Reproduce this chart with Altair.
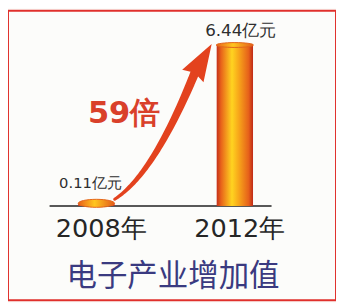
import altair as alt
import pandas as pd

# ---- data ----
years = ["2008年", "2012年"]
values = [0.11, 6.44]
value_labels = ["0.11亿元", "6.44亿元"]
multiple_label = ["59倍"]
title_text = ["电子产业增加值"]
positions = [0, 1]

df = pd.DataFrame({"i": positions, "year": years, "v": values,
                   "lab": value_labels, "z": [0, 0]})

X = alt.Scale(domain=[0, 1], range=[85, 236])
Y = alt.Scale(domain=[0, 6.44], range=[199, 35])

def xe(f="i"):
    return alt.X(f"{f}:Q", scale=X, axis=None)

def ye(f="v"):
    return alt.Y(f"{f}:Q", scale=Y, axis=None)

bar_grad = alt.Gradient(
    gradient="linear", x1=0, x2=1, y1=0, y2=0,
    stops=[
        alt.GradientStop(offset=0, color="#c4301a"),
        alt.GradientStop(offset=0.12, color="#e8621a"),
        alt.GradientStop(offset=0.42, color="#ffd420"),
        alt.GradientStop(offset=0.6, color="#f8a81a"),
        alt.GradientStop(offset=0.88, color="#e6601a"),
        alt.GradientStop(offset=1, color="#bf2a18"),
    ],
)
cap_grad = alt.Gradient(
    gradient="linear", x1=0, x2=1, y1=0, y2=0,
    stops=[
        alt.GradientStop(offset=0, color="#e8601a"),
        alt.GradientStop(offset=0.45, color="#ffc61e"),
        alt.GradientStop(offset=1, color="#e25a1a"),
    ],
)

base_df = pd.DataFrame({"x0": [-0.338], "x1": [1.265], "v": [0]})
baseline = alt.Chart(base_df).mark_rule(color="#222222", strokeWidth=1.6).encode(
    x=xe("x0"), x2="x1", y=ye()
)

bars = alt.Chart(df).mark_bar(size=37, color=bar_grad, orient="vertical").encode(
    x=xe(), y=ye(), y2=alt.Y2("z")
)

ellipse_tall = "M-1,0 A1,0.22 0 1,0 1,0 A1,0.22 0 1,0 -1,0 Z"
ellipse_flat = "M-1,0 A1,0.13 0 1,0 1,0 A1,0.13 0 1,0 -1,0 Z"
cap_small = alt.Chart(df).transform_filter("datum.i == 0").mark_point(
    shape=ellipse_tall, size=1369, filled=True, fill=cap_grad,
    stroke="#e4661c", strokeWidth=1, opacity=1
).encode(x=xe(), y=ye())
cap_big = alt.Chart(df).transform_filter("datum.i == 1").mark_point(
    shape=ellipse_flat, size=1444, filled=True, fill=cap_grad,
    stroke="#e0641c", strokeWidth=1, opacity=1
).encode(x=xe(), y=ye())

# ---- arrow: curve from the 2008 disc toward the 2012 bar top ----
p0 = (0.132, 0.275)
p1 = (0.411, 1.256)
p2 = (0.709, 5.30)
n = 40
rows = []
for k in range(n + 1):
    t = k / n
    a, b, c = (1 - t) ** 2, 2 * (1 - t) * t, t ** 2
    rows.append({"ax": a * p0[0] + b * p1[0] + c * p2[0],
                 "ay": a * p0[1] + b * p1[1] + c * p2[1],
                 "t": t})
arrow_df = pd.DataFrame(rows)
arrow = alt.Chart(arrow_df).mark_trail(color="#e3421e").encode(
    x=xe("ax"), y=ye("ay"), order="t:Q",
    size=alt.Size("t:Q", scale=alt.Scale(domain=[0, 1], range=[3, 9]), legend=None),
)
head_df = pd.DataFrame({"hx": [0.757], "hy": [5.77]})
head = alt.Chart(head_df).mark_point(
    shape="M0,-1 L0.6,0.8 L0,0.62 L-0.6,0.8 Z", size=1764, angle=30.5,
    filled=True, color="#e3421e", opacity=1
).encode(x=xe("hx"), y=ye("hy"))

# ---- texts ----
lab_small = alt.Chart(df).transform_filter("datum.i == 0").mark_text(
    fontSize=15, font="DejaVu Sans", color="#2e2e2e", dx=-6, dy=-21
).encode(x=xe(), y=ye(), text="lab:N")
lab_big = alt.Chart(df).transform_filter("datum.i == 1").mark_text(
    fontSize=17, font="DejaVu Sans", color="#2e2e2e", dx=6, dy=-14
).encode(x=xe(), y=ye(), text="lab:N")

year_labels = alt.Chart(df).mark_text(
    fontSize=26, font="DejaVu Sans", color="#262626", dx=5, dy=23
).encode(x=xe(), y=ye("z"), text="year:N")

mult_df = pd.DataFrame({"mx": [0.2], "my": [3.69], "t": multiple_label})
mult = alt.Chart(mult_df).mark_text(
    fontSize=31, font="DejaVu Sans", fontWeight="bold", color="#d9402a"
).encode(x=xe("mx"), y=ye("my"), text="t:N")

title_df = pd.DataFrame({"t": title_text})
title = alt.Chart(title_df).mark_text(
    fontSize=31, font="Noto Sans CJK SC", color="#3a3a80"
).encode(x=alt.value(168), y=alt.value(271), text="t:N")

chart = alt.layer(
    baseline, bars, cap_small, cap_big, arrow, head,
    lab_small, lab_big, year_labels, mult, title
).properties(
    width=334, height=295, padding=0,
    autosize=alt.AutoSizeParams(type="none"),
    background="#fcfcfa",
).configure_view(stroke="#e0302c", strokeWidth=2)

chart.save("out.html", embed_options={"renderer": "svg", "actions": False})
